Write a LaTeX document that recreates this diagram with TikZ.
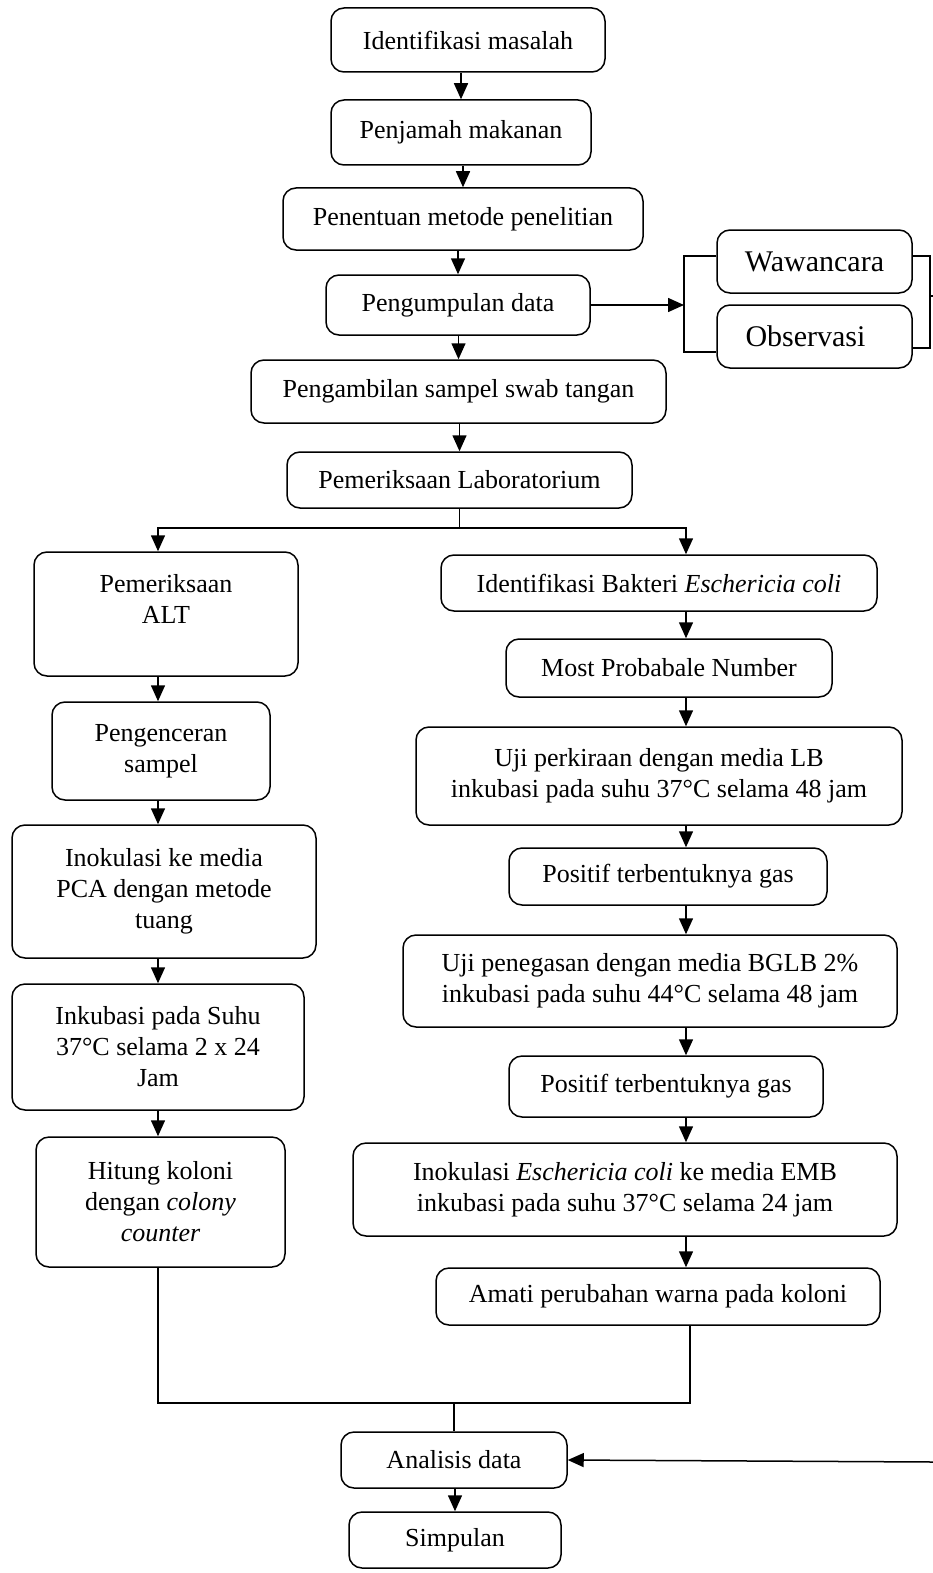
\documentclass[tikz,border=0pt]{standalone}
\usepackage{fontspec}
\setmainfont{Liberation Serif}
\usetikzlibrary{arrows.meta}

\begin{document}
\begin{tikzpicture}[
  x=1pt, y=-1pt,
  font=\fontsize{26}{31}\selectfont,
  stepbox/.style={rounded corners=13pt, draw, align=center,
                  inner sep=2pt, line width=1.5pt},
  bigtext/.style={font=\fontsize{30}{36}\selectfont},
  flow/.style={-{Triangle[width=14pt,length=16pt]}, line width=1.5pt},
  link/.style={line width=1.5pt}
]
  \useasboundingbox (0,0) rectangle (933,1573);

  % ---- main column ----
  \node[stepbox, minimum width=274, minimum height=64] (idm) at (468,40)
        {Identifikasi masalah};
  \node[stepbox, minimum width=260, minimum height=65] (pjm) at (461,132.5)
        {Penjamah makanan};
  \node[stepbox, minimum width=360, minimum height=62] (pmp) at (463,219)
        {Penentuan metode penelitian};
  \node[stepbox, minimum width=264, minimum height=60] (pgd) at (458,305)
        {Pengumpulan data};
  \node[stepbox, bigtext, minimum width=195, minimum height=63] (wwc) at (814.5,261.5)
        {Wawancara};
  \node[stepbox, bigtext, minimum width=195, minimum height=63] (obs) at (814.5,336.5)
        {Observasi\hspace{18pt}};
  \node[stepbox, minimum width=415, minimum height=63] (swab) at (458.5,391.5)
        {Pengambilan sampel swab tangan};
  \node[stepbox, minimum width=345, minimum height=56] (lab) at (459.5,480)
        {Pemeriksaan Laboratorium};

  % ---- left column (ALT) ----
  \node[stepbox, minimum width=264, minimum height=124] (alt) at (166,614)
        {Pemeriksaan\\ALT\\\mbox{}};
  \node[stepbox, minimum width=218, minimum height=98] (pgc) at (161,751)
        {Pengenceran\\sampel};
  \node[stepbox, minimum width=304, minimum height=133] (pca) at (164,891.5)
        {Inokulasi ke media\\PCA dengan metode\\tuang};
  \node[stepbox, minimum width=292, minimum height=126] (ink) at (158,1047)
        {Inkubasi pada Suhu\\37°C selama 2 x 24\\Jam};
  \node[stepbox, minimum width=249, minimum height=130] (hit) at (160.5,1202)
        {Hitung koloni\\dengan \textit{colony}\\\textit{counter}};

  % ---- right column (E. coli) ----
  \node[stepbox, minimum width=436, minimum height=56] (idb) at (659,583)
        {Identifikasi Bakteri \textit{Eschericia coli}};
  \node[stepbox, minimum width=326, minimum height=58] (mpn) at (669,668)
        {Most Probabale Number};
  \node[stepbox, minimum width=486, minimum height=98] (ujp) at (659,776)
        {Uji perkiraan dengan media LB\\inkubasi pada suhu 37°C selama 48 jam};
  \node[stepbox, minimum width=318, minimum height=57] (pos1) at (668,876.5)
        {Positif terbentuknya gas};
  \node[stepbox, minimum width=494, minimum height=92] (ujg) at (650,981)
        {Uji penegasan dengan media BGLB 2\%\\inkubasi pada suhu 44°C selama 48 jam};
  \node[stepbox, minimum width=314, minimum height=61] (pos2) at (666,1086.5)
        {Positif terbentuknya gas};
  \node[stepbox, minimum width=544, minimum height=93] (ino) at (625,1189.5)
        {Inokulasi \textit{Eschericia coli} ke media EMB\\inkubasi pada suhu 37°C selama 24 jam};
  \node[stepbox, minimum width=444, minimum height=57] (amt) at (658,1296.5)
        {Amati perubahan warna pada koloni};

  % ---- end ----
  \node[stepbox, minimum width=226, minimum height=56] (ana) at (454,1460)
        {Analisis data};
  \node[stepbox, minimum width=212, minimum height=56] (smp) at (455,1540)
        {Simpulan};

  % ---- helper coordinates ----
  \coordinate (colL) at (158,0);
  \coordinate (colR) at (686,0);
  \coordinate (split) at (459.5,528);
  \coordinate (mrg) at (454,1403);
  \coordinate (brL) at (684,305);
  \coordinate (brR) at (930,296);
  \coordinate (back) at (933,1462);

  % ---- main flow ----
  \draw[flow] (idm.south -| pjm) -- (pjm.north);
  \draw[flow] (pjm.south -| pmp) -- (pmp.north);
  \draw[flow] (pmp.south -| pgd) -- (pgd.north);
  \draw[flow] (pgd.south -| swab) -- (swab.north);
  \draw[flow] (swab.south -| lab) -- (lab.north);

  % ---- data collection bracket ----
  \draw[flow] (pgd.east) -- (brL);
  \draw[link] ([yshift=5.5pt]wwc.west) -| (brL) |- ([yshift=-15.5pt]obs.west);
  \draw[link] ([yshift=5.5pt]wwc.east) -| (brR) |- ([yshift=-11.5pt]obs.east);
  \draw[link] (brR) -- (brR -| back);

  % ---- split into two branches ----
  \draw[link] (lab.south) -- (split);
  \draw[flow] (split) -| (alt.north -| colL);
  \draw[flow] (split) -| (idb.north -| colR);

  % ---- left branch ----
  \draw[flow] (alt.south -| colL) -- (pgc.north -| colL);
  \draw[flow] (pgc.south -| colL) -- (pca.north -| colL);
  \draw[flow] (pca.south -| colL) -- (ink.north -| colL);
  \draw[flow] (ink.south -| colL) -- (hit.north -| colL);

  % ---- right branch ----
  \draw[flow] (idb.south -| colR) -- (mpn.north -| colR);
  \draw[flow] (mpn.south -| colR) -- (ujp.north -| colR);
  \draw[flow] (ujp.south -| colR) -- (pos1.north -| colR);
  \draw[flow] (pos1.south -| colR) -- (ujg.north -| colR);
  \draw[flow] (ujg.south -| colR) -- (pos2.north -| colR);
  \draw[flow] (pos2.south -| colR) -- (ino.north -| colR);
  \draw[flow] (ino.south -| colR) -- (amt.north -| colR);

  % ---- merge ----
  \draw[link] (hit.south -| colL) |- (mrg);
  \draw[link] ([xshift=32pt]amt.south) |- (mrg);
  \draw[link] (mrg) -- (ana.north);
  \draw[flow] (back) -- (ana.east);
  \draw[flow] (ana.south -| smp) -- (smp.north);
\end{tikzpicture}
\end{document}
